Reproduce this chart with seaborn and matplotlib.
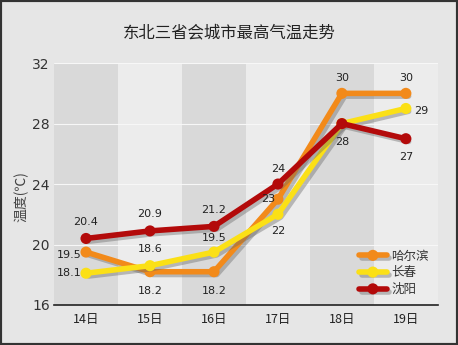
import matplotlib
matplotlib.use("Agg")
import matplotlib.pyplot as plt
import matplotlib.patheffects as pe
import seaborn as sns
import pandas as pd

days = ["14日", "15日", "16日", "17日", "18日", "19日"]
harbin = [19.5, 18.2, 18.2, 23, 30, 30]
changchun = [18.1, 18.6, 19.5, 22, 28, 29]
shenyang = [20.4, 20.9, 21.2, 24, 28, 27]
cities = ["哈尔滨", "长春", "沈阳"]
yticks = [16, 20, 24, 28, 32]

sns.set_theme(style="white")
plt.rcParams['font.family'] = ['Noto Sans CJK SC', 'DejaVu Sans']

colors = {"哈尔滨": "#f28a1a", "长春": "#fbe016", "沈阳": "#b30a0a"}

rows = []
for c, vals in zip(cities, [harbin, changchun, shenyang]):
    for i, v in enumerate(vals):
        rows.append({"x": i, "day": days[i], "city": c, "t": v})
df = pd.DataFrame(rows)

fig = plt.figure(figsize=(4.58, 3.45), dpi=100, facecolor="#e6e6e6")
ax = fig.add_axes([0.118, 0.116, 0.838, 0.701])
ax.set_facecolor("#e9e9e9")

# alternating column bands
for i in range(6):
    col = "#d9d9d9" if i % 2 == 0 else "#ececec"
    ax.axvspan(i - 0.5, i + 0.5, color=col, zorder=0, lw=0)
for y in yticks[1:]:
    ax.axhline(y, color="#f7f7f7", lw=0.8, zorder=1)

shadow = [pe.SimpleLineShadow(offset=(2, -2), shadow_color="#666666", alpha=0.4), pe.Normal()]
for c in cities:
    sub = df[df.city == c]
    sns.lineplot(data=sub, x="x", y="t", color=colors[c], lw=4, marker="o",
                 markersize=8, markeredgewidth=0, ax=ax, label=c, zorder=3,
                 path_effects=shadow)

def lab(x, y, s, dx=0, dy=0, ha="center"):
    ax.annotate(s, (x, y), xytext=(dx, dy), textcoords="offset points",
                ha=ha, va="center", fontsize=8, color="#222222",
                family="DejaVu Sans", zorder=5)

# Harbin labels
lab(0, 19.5, "19.5", -12, -2)
lab(1, 18.2, "18.2", 0, -14)
lab(2, 18.2, "18.2", 0, -14)
lab(3, 23, "23", -7, 0)
lab(4, 30, "30", 0, 11)
lab(5, 30, "30", 0, 11)
# Changchun labels
lab(0, 18.1, "18.1", -12, 0)
lab(1, 18.6, "18.6", 0, 12)
lab(2, 19.5, "19.5", 0, 10)
lab(3, 22, "22", 0, -12)
lab(5, 29, "29", 11, -2)
# Shenyang labels
lab(0, 20.4, "20.4", 0, 12)
lab(1, 20.9, "20.9", 0, 12)
lab(2, 21.2, "21.2", 0, 12)
lab(3, 24, "24", 0, 11)
lab(4, 28, "28", 0, -13)
lab(5, 27, "27", 0, -13)

ax.set_xlim(-0.5, 5.5)
ax.set_ylim(16, 32)
ax.set_yticks(yticks)
ax.set_yticklabels([str(v) for v in yticks], family="DejaVu Sans", fontsize=10, color="#333333")
ax.set_xticks(range(6))
ax.set_xticklabels(days, fontsize=9, color="#222222")
ax.tick_params(axis="x", length=0, pad=6)
ax.tick_params(axis="y", length=0, pad=3)
ax.set_xlabel("")
ax.set_ylabel("温度(℃)", fontsize=10, color="#444444")
ax.yaxis.set_label_coords(-0.065, 0.45)
for s in ["top", "right", "left"]:
    ax.spines[s].set_visible(False)
ax.spines["bottom"].set_color("#222222")
ax.spines["bottom"].set_linewidth(1.2)

leg = ax.legend(loc="lower right", frameon=False, fontsize=9, handlelength=2.2,
                labelspacing=0.3, borderaxespad=0.3, handletextpad=0.4)
for t in leg.get_texts():
    t.set_color("#333333")

fig.text(0.5, 0.905, "东北三省会城市最高气温走势", ha="center", va="center",
         fontsize=11.8, color="#222222", fontweight="medium")

# figure frame
fig.patches.append(plt.Rectangle((0, 0), 1, 1, transform=fig.transFigure,
                                 fill=False, edgecolor="#333333", lw=3))

fig.savefig("out.png", dpi=100, facecolor=fig.get_facecolor())
